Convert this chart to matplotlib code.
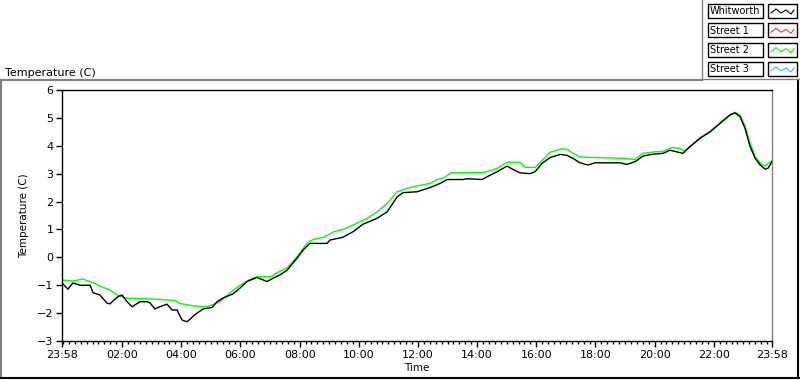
import matplotlib
matplotlib.use("Agg")
import matplotlib.pyplot as plt
from matplotlib.lines import Line2D
from matplotlib.patches import Rectangle

# hours since 23:58
whit_t = [0.0, 0.20, 0.37, 0.61, 0.95, 1.05, 1.28, 1.52, 1.62, 1.89, 2.03, 2.20, 2.37,
          2.64, 2.87, 2.97, 3.14, 3.31, 3.55, 3.72, 3.89, 4.06, 4.23, 4.50, 4.77, 5.07,
          5.24, 5.44, 5.78, 6.02, 6.25, 6.59, 6.93, 7.13, 7.37, 7.61, 7.94, 8.15, 8.38,
          8.96, 9.06, 9.50, 9.84, 10.18, 10.65, 10.99, 11.33, 11.53, 12.00, 12.44, 12.78,
          13.02, 13.56, 13.69, 14.20, 14.37, 14.71, 15.04, 15.25, 15.48, 15.82, 15.99,
          16.23, 16.50, 16.84, 17.07, 17.27, 17.51, 17.78, 18.02, 18.86, 19.10, 19.37,
          19.64, 19.98, 20.32, 20.55, 20.99, 21.23, 21.57, 21.91, 22.24, 22.58, 22.75,
          22.92, 23.09, 23.26, 23.43, 23.60, 23.77, 23.87, 24.0]
whit_v = [-0.92, -1.14, -0.92, -1.0, -1.0, -1.27, -1.35, -1.64, -1.67, -1.41, -1.35, -1.59, -1.77,
          -1.59, -1.59, -1.63, -1.85, -1.77, -1.68, -1.89, -1.89, -2.25, -2.31, -2.05, -1.85, -1.80,
          -1.59, -1.46, -1.31, -1.10, -0.87, -0.72, -0.87, -0.75, -0.63, -0.46, -0.04, 0.26, 0.50,
          0.50, 0.62, 0.72, 0.92, 1.19, 1.40, 1.63, 2.17, 2.32, 2.35, 2.50, 2.65,
          2.79, 2.79, 2.82, 2.79, 2.89, 3.07, 3.27, 3.15, 3.03, 3.00, 3.07,
          3.37, 3.58, 3.69, 3.66, 3.55, 3.39, 3.31, 3.39, 3.39, 3.33, 3.43,
          3.63, 3.70, 3.73, 3.84, 3.73, 3.97, 4.27, 4.50, 4.80, 5.10, 5.18,
          5.04, 4.62, 3.97, 3.55, 3.31, 3.16, 3.20, 3.43]

st2_t = [0.0, 0.35, 0.71, 1.05, 1.28, 1.62, 1.86, 2.13, 3.21, 3.85, 3.96, 4.50, 4.90, 5.00,
         5.34, 5.68, 6.02, 6.36, 6.63, 7.07, 7.27, 7.61, 7.94, 8.32, 8.52, 8.85, 9.19, 9.50,
         9.84, 10.31, 10.65, 10.99, 11.33, 11.66, 12.00, 12.44, 12.64, 12.92, 13.15, 14.30,
         14.71, 15.04, 15.48, 15.65, 15.99, 16.16, 16.50, 16.91, 17.10, 17.27, 17.51, 18.02,
         18.93, 19.37, 19.64, 20.00, 20.32, 20.62, 20.89, 21.03, 21.23, 21.57, 21.91, 22.24,
         22.58, 22.75, 22.92, 23.09, 23.26, 23.43, 23.64, 23.77, 24.0]
st2_v = [-0.81, -0.85, -0.78, -0.91, -1.03, -1.17, -1.35, -1.46, -1.50, -1.55, -1.65, -1.75, -1.77, -1.74,
         -1.59, -1.27, -1.00, -0.79, -0.69, -0.69, -0.55, -0.38, 0.02, 0.55, 0.65, 0.72, 0.92, 1.00,
         1.16, 1.40, 1.63, 1.93, 2.35, 2.47, 2.56, 2.65, 2.77, 2.86, 3.03, 3.05,
         3.19, 3.41, 3.41, 3.23, 3.22, 3.40, 3.77, 3.90, 3.86, 3.73, 3.60, 3.58,
         3.55, 3.51, 3.73, 3.78, 3.80, 3.94, 3.90, 3.81, 3.97, 4.29, 4.52, 4.82,
         5.12, 5.20, 5.10, 4.70, 4.09, 3.62, 3.33, 3.28, 3.47]

tick_labels = ["23:58", "02:00", "04:00", "06:00", "08:00", "10:00", "12:00",
               "14:00", "16:00", "18:00", "20:00", "22:00", "23:58"]
legend_names = ["Whitworth", "Street 1", "Street 2", "Street 3"]
legend_colors = ["#000000", "#ff3030", "#00ff00", "#33bbff"]

W, H = 800, 380
fig = plt.figure(figsize=(8, 3.8), dpi=100)
fig.patch.set_facecolor("white")

def px(x, y):
    return x / W, 1 - y / H

# outer frame of the plot
gray = "#808080"
fig.add_artist(Line2D([1 / W, 1 / W], [px(0, 80)[1], px(0, 378)[1]], color=gray, lw=1.5, transform=fig.transFigure))
fig.add_artist(Line2D([0, 702 / W], [px(0, 80)[1]] * 2, color=gray, lw=1.5, transform=fig.transFigure))
fig.add_artist(Line2D([0, 1], [px(0, 378)[1]] * 2, color="black", lw=1.5, transform=fig.transFigure))
fig.add_artist(Line2D([798 / W] * 2, [px(0, 80)[1], px(0, 378)[1]], color="black", lw=1.5, transform=fig.transFigure))
# legend frame
fig.add_artist(Line2D([702 / W] * 2, [1, px(0, 80)[1]], color=gray, lw=1.0, transform=fig.transFigure))
fig.add_artist(Line2D([702 / W, 1], [px(0, 79)[1]] * 2, color=gray, lw=1.0, transform=fig.transFigure))

ax = fig.add_axes([62 / W, 1 - 341 / H, (772 - 62) / W, (341 - 90) / H])
ax.plot(st2_t, st2_v, color="#00ff00", lw=1.0)
ax.plot(whit_t, whit_v, color="black", lw=1.0)

ax.set_xlim(0, 24)
ax.set_ylim(-3, 6)
major = [0] + [2 + 2 / 60 + 2 * k for k in range(11)] + [24]
ax.set_xticks(major)
ax.set_xticklabels(tick_labels)
ax.set_xticks([2 + 2 / 60 + 0.2 * k for k in range(-10, 110) if 0.01 < 2 + 2 / 60 + 0.2 * k < 23.99], minor=True)
ax.set_yticks(range(-3, 7))

for s in ["left", "bottom", "top"]:
    ax.spines[s].set_color("black")
ax.spines["right"].set_color(gray)
for s in ax.spines.values():
    s.set_linewidth(1.0)
ax.tick_params(axis="both", which="major", length=4, width=1, labelsize=8, pad=2, colors="black")
ax.tick_params(axis="x", which="minor", length=2.5, width=1)
ax.tick_params(axis="x", which="major", length=4.5)

ax.set_ylabel("Temperature (C)", fontsize=7.5, labelpad=6)
ax.set_xlabel("Time", fontsize=7.5, labelpad=2)

fig.text(5 / W, px(0, 73)[1], "Temperature (C)", fontsize=8, va="center", ha="left")

# legend boxes
for i, (name, col) in enumerate(zip(legend_names, legend_colors)):
    top = 4 + i * 19.3
    x0, y0 = px(708, top + 14)
    fig.add_artist(Rectangle((x0, y0), 55 / W, 14 / H, transform=fig.transFigure,
                             facecolor="white", edgecolor="black", lw=1.0))
    x1, _ = px(768, 0)
    fig.add_artist(Rectangle((x1, y0), 29 / W, 14 / H, transform=fig.transFigure,
                             facecolor="white", edgecolor="black", lw=1.0))
    fig.text(710 / W, px(0, top + 7.5)[1], name, fontsize=7, va="center", ha="left")
    zx = [771, 776, 781, 786, 791, 794]
    zy = [top + 9, top + 5, top + 9, top + 6, top + 10, top + 6]
    fig.add_artist(Line2D([x / W for x in zx], [1 - y / H for y in zy], color=col, lw=0.8,
                          transform=fig.transFigure))

fig.savefig("out.png", dpi=100)
